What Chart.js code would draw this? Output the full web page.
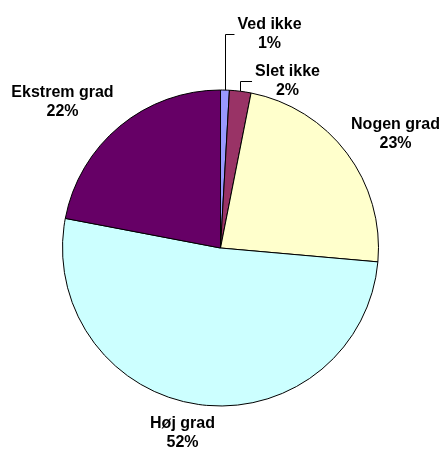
<!DOCTYPE html>
<html>
<head>
<meta charset="utf-8">
<script src="https://cdn.jsdelivr.net/npm/chart.js@4/dist/chart.umd.min.js"></script>
<style>
	html, body { margin: 0; padding: 0; background: #fff; }
	#wrap { width: 443px; height: 450px; }
</style>
</head>
<body>
<div id="wrap"><canvas id="pie"></canvas></div>
<script>
// data
const categories = ['Ved ikke', 'Slet ikke', 'Nogen grad', 'Høj grad', 'Ekstrem grad'];
const values = [0.9, 2.2, 23.3, 51.6, 22.0];
const colors = ['#9999FF', '#993366', '#FFFFCC', '#CCFFFF', '#660066'];

// label block centres, relative to pie centre (px); leader = draw a bent line
const labelLayout = [
	{ dx: 49, dy: -214, leader: true },
	{ dx: 67, dy: -167, leader: true },
	{ dx: 175, dy: -114, leader: false },
	{ dx: -38, dy: 185, leader: false },
	{ dx: -158, dy: -146, leader: false }
];

const FONT = 'bold 16px "Liberation Sans", Arial, sans-serif';
const LINE_H = 19.5;

// Draw Excel-style labels (name + percent) round the pie
const pieLabels = {
	id: 'pieLabels',
	afterDraw(chart) {
		const ctx = chart.ctx;
		const arcs = chart.getDatasetMeta(0).data;
		const total = values.reduce((a, b) => a + b, 0);
		ctx.save();
		ctx.font = FONT;
		ctx.fillStyle = '#000';
		ctx.textAlign = 'center';
		ctx.textBaseline = 'middle';
		arcs.forEach((arc, i) => {
			const { x, y, outerRadius, startAngle, endAngle } = arc.getProps(['x', 'y', 'outerRadius', 'startAngle', 'endAngle'], true);
			const lay = labelLayout[i];
			const lx = x + lay.dx, ly = y + lay.dy;
			const pct = Math.round(values[i] / total * 100) + '%';
			ctx.fillText(categories[i], lx, ly - LINE_H / 2);
			ctx.fillText(pct, lx, ly + LINE_H / 2);
			if (lay.leader) {
				const mid = (startAngle + endAngle) / 2;
				const px = x + Math.cos(mid) * outerRadius;
				const py = y + Math.sin(mid) * outerRadius;
				const w = ctx.measureText(categories[i]).width;
				ctx.beginPath();
				ctx.strokeStyle = '#000';
				ctx.lineWidth = 1;
				ctx.moveTo(Math.round(px) + 0.5, py);
				ctx.lineTo(Math.round(px) + 0.5, Math.round(ly) + 0.5);
				ctx.lineTo(lx - w / 2 - 3, Math.round(ly) + 0.5);
				ctx.stroke();
			}
		});
		ctx.restore();
	}
};

new Chart(document.getElementById('pie'), {
	type: 'pie',
	data: {
		labels: categories,
		datasets: [{
			data: values,
			backgroundColor: colors,
			borderColor: '#000',
			borderWidth: 1
		}]
	},
	options: {
		responsive: true,
		maintainAspectRatio: false,
		animation: false,
		layout: { padding: { top: 89.5, bottom: 43.5, left: 62, right: 64 } },
		plugins: {
			legend: { display: false },
			tooltip: { enabled: false }
		}
	},
	plugins: [pieLabels]
});
</script>
</body>
</html>
